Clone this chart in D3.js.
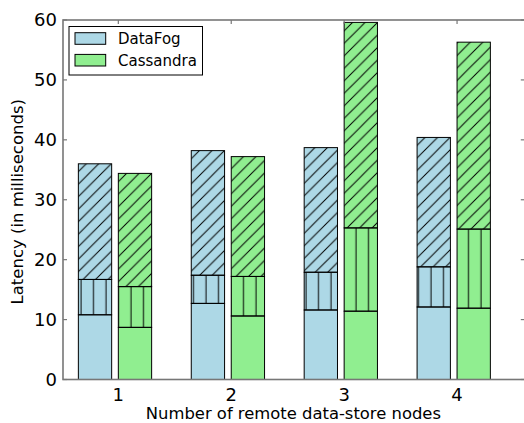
<!DOCTYPE html>
<html>
<head>
<meta charset="utf-8">
<script src="https://cdn.jsdelivr.net/npm/d3@7/dist/d3.min.js"></script>
<style>
  html, body { margin: 0; padding: 0; background: #fff; }
  svg { display: block; font-family: "DejaVu Sans", sans-serif; }
</style>
</head>
<body>
<svg id="chart" width="524" height="423"></svg>
<script>
// ---- data ----
const categories = [1, 2, 3, 4];
const seriesNames = ["DataFog", "Cassandra"];
const seriesColors = ["#add8e6", "#90ee90"];
// stacked components (bottom: solid, middle: "|" hatch, top: "/" hatch)
const dataFogBottom = [10.8, 12.7, 11.6, 12.1];
const dataFogMiddle = [5.9, 4.7, 6.3, 6.7];
const dataFogTop    = [19.3, 20.8, 20.8, 21.6];
const cassBottom = [8.7, 10.6, 11.4, 11.9];
const cassMiddle = [6.8, 6.6, 13.9, 13.2];
const cassTop    = [18.9, 20.0, 34.3, 31.2];
const yTicks = [0, 10, 20, 30, 40, 50, 60];
const xLabel = "Number of remote data-store nodes";
const yLabel = "Latency (in milliseconds)";

(function () {
const seriesParts = [
  [dataFogBottom, dataFogMiddle, dataFogTop],
  [cassBottom, cassMiddle, cassTop]
];
const barOffsets = [-0.354, 0];   // left edge relative to category
const barWidth = 0.295;

// ---- layout ----
const svg = d3.select("#chart");
const pL = 63, pR = 524.8, pT = 20, pB = 379.5;
const x = d3.scaleLinear().domain([0.51, 4.6]).range([pL, pR]);
const y = d3.scaleLinear().domain([0, 60]).range([pB, pT]);

// ---- patterns ----
const defs = svg.append("defs");
const P = 12.5;
const diag = defs.append("pattern").attr("id", "diag")
  .attr("patternUnits", "userSpaceOnUse").attr("width", P).attr("height", P);
diag.append("path")
  .attr("d", `M0,${P} L${P},0 M${-P/2},${P/2} L${P/2},${-P/2} M${P/2},${P*1.5} L${P*1.5},${P/2}`)
  .attr("stroke", "#000").attr("stroke-width", 1).attr("fill", "none");
const vert = defs.append("pattern").attr("id", "vert")
  .attr("patternUnits", "userSpaceOnUse").attr("width", P).attr("height", P);
vert.append("line").attr("x1", 6).attr("x2", 6).attr("y1", -1).attr("y2", P + 1)
  .attr("stroke", "#000").attr("stroke-width", 1);
const hatchFor = [null, "url(#vert)", "url(#diag)"];

// ---- bars ----
const rects = [];
seriesParts.forEach((parts, s) => {
  categories.forEach((c, i) => {
    let base = 0;
    parts.forEach((arr, k) => {
      rects.push({ s, c, k, y0: base, y1: base + arr[i] });
      base += arr[i];
    });
  });
});
const barG = svg.append("g");
const bx = d => x(d.c + barOffsets[d.s]);
const bw = d => x(d.c + barOffsets[d.s] + barWidth) - x(d.c + barOffsets[d.s]);
barG.selectAll("rect.fill").data(rects).join("rect").attr("class", "fill")
  .attr("x", bx).attr("width", bw)
  .attr("y", d => y(d.y1)).attr("height", d => y(d.y0) - y(d.y1))
  .attr("fill", d => seriesColors[d.s]);
barG.selectAll("rect.hatch").data(rects.filter(d => hatchFor[d.k])).join("rect").attr("class", "hatch")
  .attr("x", bx).attr("width", bw)
  .attr("y", d => y(d.y1)).attr("height", d => y(d.y0) - y(d.y1))
  .attr("fill", d => hatchFor[d.k]);
barG.selectAll("rect.edge").data(rects).join("rect").attr("class", "edge")
  .attr("x", bx).attr("width", bw)
  .attr("y", d => y(d.y1)).attr("height", d => y(d.y0) - y(d.y1))
  .attr("fill", "none").attr("stroke", "#000").attr("stroke-width", 1);

// ---- axes / frame ----
const frameColor = "#777";
const tl = 4;
const axG = svg.append("g");
axG.selectAll("line.yl").data(yTicks).join("line").attr("class", "yl")
  .attr("x1", pL).attr("x2", pL + tl).attr("y1", d => y(d)).attr("y2", d => y(d))
  .attr("stroke", frameColor).attr("stroke-width", 1.2);
axG.selectAll("line.yr").data(yTicks).join("line").attr("class", "yr")
  .attr("x1", pR).attr("x2", pR - tl).attr("y1", d => y(d)).attr("y2", d => y(d))
  .attr("stroke", frameColor).attr("stroke-width", 1.2);
axG.selectAll("line.xt").data(categories).join("line").attr("class", "xt")
  .attr("x1", d => x(d)).attr("x2", d => x(d)).attr("y1", pT).attr("y2", pT + tl)
  .attr("stroke", frameColor).attr("stroke-width", 1.2);
axG.append("rect").attr("x", pL).attr("y", pT)
  .attr("width", pR - pL).attr("height", pB - pT)
  .attr("fill", "none").attr("stroke", frameColor).attr("stroke-width", 1.6);

// tick labels
axG.selectAll("text.yt").data(yTicks).join("text").attr("class", "yt")
  .attr("x", pL - 6).attr("y", d => y(d)).attr("dy", "0.36em")
  .attr("text-anchor", "end").attr("font-size", 18).text(d => d);
axG.selectAll("text.xtl").data(categories).join("text").attr("class", "xtl")
  .attr("x", d => x(d)).attr("y", 400.5)
  .attr("text-anchor", "middle").attr("font-size", 18).text(d => d);

// axis labels
svg.append("text").attr("x", (pL + pR) / 2 - 0.5).attr("y", 419)
  .attr("text-anchor", "middle").attr("font-size", 16.4).text(xLabel);
svg.append("text").attr("transform", `translate(22.5,${(pT + pB) / 2 + 2}) rotate(-90)`)
  .attr("text-anchor", "middle").attr("font-size", 16.5).text(yLabel);

// ---- legend ----
const lg = svg.append("g");
lg.append("rect").attr("x", 69).attr("y", 26.5).attr("width", 133.5).attr("height", 48.5)
  .attr("fill", "#fff").attr("stroke", "#000").attr("stroke-width", 1);
seriesNames.forEach((name, i) => {
  const cy = 38.5 + i * 21.7;
  lg.append("rect").attr("x", 75).attr("y", cy - 5.8).attr("width", 30.7).attr("height", 11.6)
    .attr("fill", seriesColors[i]).attr("stroke", "#000").attr("stroke-width", 1);
  lg.append("text").attr("x", 118).attr("y", cy).attr("dy", "0.36em")
    .attr("font-size", 15).text(name);
});
})();
</script>
</body>
</html>
